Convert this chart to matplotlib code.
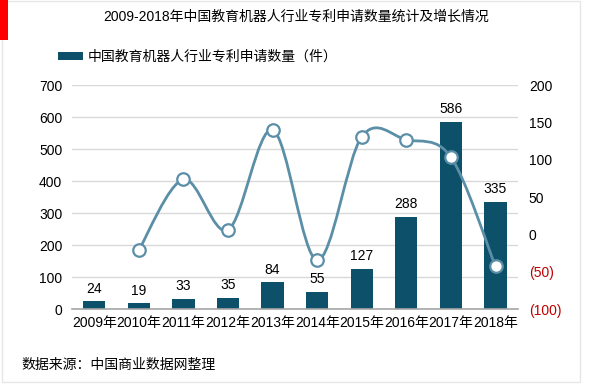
import matplotlib.pyplot as plt
from matplotlib.path import Path
from matplotlib.patches import PathPatch, Rectangle
import numpy as np

plt.rcParams['font.family'] = ['Liberation Sans', 'Noto Sans CJK SC']
plt.rcParams['font.size'] = 10

# 数据
anos = ['2009年', '2010年', '2011年', '2012年', '2013年',
        '2014年', '2015年', '2016年', '2017年', '2018年']
patentes = [24, 19, 33, 35, 84, 55, 127, 288, 586, 335]
crescimento = [None, -20.8, 73.7, 6.1, 140.0, -34.5, 130.9, 126.8, 103.5, -42.8]

cor_barra = '#0d5069'
cor_linha = '#5b8fa8'

fig = plt.figure(figsize=(6, 3.85), dpi=100)
ax = fig.add_axes([0.12, 0.197, 0.743, 0.582])
x = np.arange(len(anos))

barras = ax.bar(x, patentes, width=0.5, color=cor_barra, zorder=2,
                label='中国教育机器人行业专利申请数量（件）')
for xi, v in zip(x, patentes):
    ax.annotate(str(v), (xi, v), xytext=(0, 4), textcoords='offset points',
                ha='center', va='bottom', fontsize=10)

ax.set_ylim(0, 700)
ax.set_xlim(-0.5, len(anos) - 0.5)
ax.set_yticks(range(0, 701, 100))
ax.set_xticks(x)
ax.set_xticklabels(anos)
ax.yaxis.grid(True, color='#d9d9d9', linewidth=1)
ax.set_axisbelow(True)
for s in ['top', 'right', 'left']:
    ax.spines[s].set_visible(False)
ax.spines['bottom'].set_color('#a6a6a6')
ax.spines['bottom'].set_linewidth(1.2)
ax.spines['bottom'].set_zorder(3)
ax.tick_params(axis='both', length=0)
ax.tick_params(axis='y', pad=7)
ax.tick_params(axis='x', pad=5)

# eixo secundario - crescimento
ax2 = ax.twinx()
ax2.set_ylim(-100, 200)
ticks2 = [-100, -50, 0, 50, 100, 150, 200]
ax2.set_yticks(ticks2)
ax2.set_yticklabels(['(100)' if t == -100 else '(50)' if t == -50 else str(t) for t in ticks2])
for lbl, t in zip(ax2.get_yticklabels(), ticks2):
    if t < 0:
        lbl.set_color('#c00000')
ax2.tick_params(axis='y', length=0, pad=8)
for s in ax2.spines.values():
    s.set_visible(False)

# linha suavizada (Catmull-Rom -> Bezier)
px = [xi for xi, g in zip(x, crescimento) if g is not None]
py = [g for g in crescimento if g is not None]
pts = np.column_stack([px, py]).astype(float)
verts = [tuple(pts[0])]
codes = [Path.MOVETO]
n = len(pts)
for i in range(n - 1):
    p0 = pts[i - 1] if i > 0 else pts[i]
    p1 = pts[i]
    p2 = pts[i + 1]
    p3 = pts[i + 2] if i + 2 < n else pts[i + 1]
    c1 = p1 + (p2 - p0) / 6
    c2 = p2 - (p3 - p1) / 6
    verts += [tuple(c1), tuple(c2), tuple(p2)]
    codes += [Path.CURVE4] * 3
ax2.add_patch(PathPatch(Path(verts, codes), facecolor='none',
                        edgecolor=cor_linha, linewidth=2, zorder=4))
ax2.plot(px, py, 'o', markersize=9, markerfacecolor='white',
         markeredgecolor=cor_linha, markeredgewidth=1.6, zorder=5)

# titulo, legenda, fonte
fig.text(0.494, 0.956, '2009-2018年中国教育机器人行业专利申请数量统计及增长情况',
         ha='center', va='center', fontsize=10)
fig.legend(handles=[barras], loc='center left', bbox_to_anchor=(0.085, 0.852),
           frameon=False, borderpad=0, handlelength=1.8, handleheight=0.5,
           handletextpad=0.35, fontsize=10)
fig.text(0.035, 0.052, '数据来源：中国商业数据网整理', ha='left', va='center', fontsize=10)

# moldura e barra vermelha
fig.patches.append(Rectangle((0.004, 0.008), 0.962, 0.99, transform=fig.transFigure,
                             facecolor='none', edgecolor='#e6e6e6', linewidth=1))
fig.patches.append(Rectangle((0, 0.896), 0.0133, 0.104, transform=fig.transFigure,
                             facecolor='#ff0000', edgecolor='none'))

plt.savefig('out.png', dpi=100)
